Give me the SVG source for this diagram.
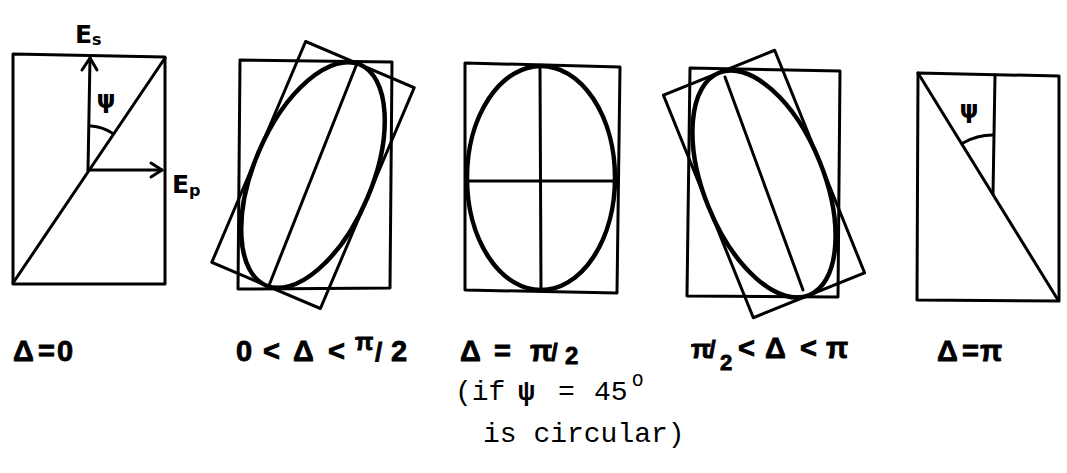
<svg xmlns="http://www.w3.org/2000/svg" width="1067" height="473" viewBox="0 0 1067 473">
<style>
.ln{fill:none;stroke:#000;stroke-width:3;stroke-linejoin:round;stroke-linecap:round}
.el{fill:none;stroke:#000;stroke-width:4.5}
.hand{font-family:"Liberation Sans",Arial,sans-serif;font-weight:bold;font-size:29px;fill:#000;stroke:#000;stroke-width:0.8}
.sym{font-family:"DejaVu Sans","Liberation Sans",sans-serif;font-weight:bold;fill:#000}
.tw{font-family:"Liberation Mono","Courier New",monospace;font-size:28px;fill:#000}
</style>
<rect width="1067" height="473" fill="#fff"/>

<g id="panel1">
<polygon class="ln" points="13,54 165,57 165,284 13,284"/>
<line class="ln" x1="13" y1="283" x2="165" y2="58"/>
<path class="ln" d="M91,126 A44,44 0 0 1 112,133"/>
<text class="sym" x="106" y="108" font-size="24" text-anchor="middle">ψ</text>
<text class="sym" x="75" y="43" font-size="25">E<tspan font-size="16" dy="2">s</tspan></text>
<text class="sym" x="172" y="193" font-size="25">E<tspan font-size="16" dy="3">p</tspan></text>
</g>

<g id="panel2">
<polygon class="ln" points="240,60 392,62 390,288 238,289"/>
<g transform="translate(313,175) rotate(23)">
<rect class="ln" x="-59" y="-120" width="118" height="240"/>
<ellipse class="el" cx="0" cy="0" rx="59" ry="120"/>
</g>
<line class="ln" x1="356" y1="66" x2="268" y2="288"/>
</g>

<g id="panel3">
<polygon class="ln" points="465,63 620,67 617,293 465,290"/>
<ellipse class="el" cx="541" cy="178" rx="74" ry="112"/>
<line class="ln" x1="540" y1="66" x2="541" y2="291"/>
<line class="ln" x1="467" y1="181" x2="614" y2="181"/>
</g>

<g id="panel4">
<polygon class="ln" points="690,68 840,71 838,297 687,296"/>
<g transform="translate(764,184) rotate(-22)">
<rect class="ln" x="-60" y="-120" width="120" height="240"/>
<ellipse class="el" cx="0" cy="0" rx="60" ry="120"/>
</g>
<line class="ln" x1="725" y1="77" x2="803" y2="290"/>
</g>

<g id="panel5">
<polygon class="ln" points="918,73 1059,76 1059,301 917,300"/>
<line class="ln" x1="918" y1="73" x2="1058" y2="300"/>
<line class="ln" x1="995" y1="75" x2="993" y2="194"/>
<path class="ln" d="M963,143 A60,60 0 0 1 993,135"/>
<text class="sym" x="969" y="118" font-size="24" text-anchor="middle">ψ</text>
</g>

<g id="connectors">
<line class="ln" x1="88" y1="170" x2="90" y2="58"/>
<polyline class="ln" points="82,70 90,58 97,70"/>
<line class="ln" x1="88" y1="170" x2="162" y2="170"/>
<polyline class="ln" points="151,163 162,170 151,177"/>
</g>

<g id="labels">
<text class="hand" y="361"><tspan x="13">Δ</tspan><tspan x="38">=</tspan><tspan x="57">0</tspan></text>
<text class="hand" y="361"><tspan x="236">0</tspan><tspan x="263">&lt;</tspan><tspan x="293">Δ</tspan><tspan x="328">&lt;</tspan><tspan x="355" y="350" font-size="24">π</tspan><tspan x="375" y="361" font-size="26">/</tspan><tspan x="391">2</tspan></text>
<text class="hand" y="361"><tspan x="460">Δ</tspan><tspan x="494">=</tspan><tspan x="530">π</tspan><tspan x="551" font-size="24">/</tspan><tspan x="565" y="364" font-size="24">2</tspan></text>
<text class="hand" y="358"><tspan x="691" font-size="26">π</tspan><tspan x="709" font-size="24">/</tspan><tspan x="720" y="370" font-size="22">2</tspan><tspan x="738" y="358">&lt;</tspan><tspan x="765">Δ</tspan><tspan x="800">&lt;</tspan><tspan x="826">π</tspan></text>
<text class="hand" y="361"><tspan x="937">Δ</tspan><tspan x="962">=</tspan><tspan x="980">π</tspan></text>
<text class="tw" y="400"><tspan x="455">(if</tspan><tspan x="518" font-weight="bold">ψ</tspan><tspan x="558">=</tspan><tspan x="594">45</tspan><tspan x="632" y="386" font-size="19">O</tspan></text>
<text class="tw" x="483" y="442">is circular)</text>
</g>
</svg>
